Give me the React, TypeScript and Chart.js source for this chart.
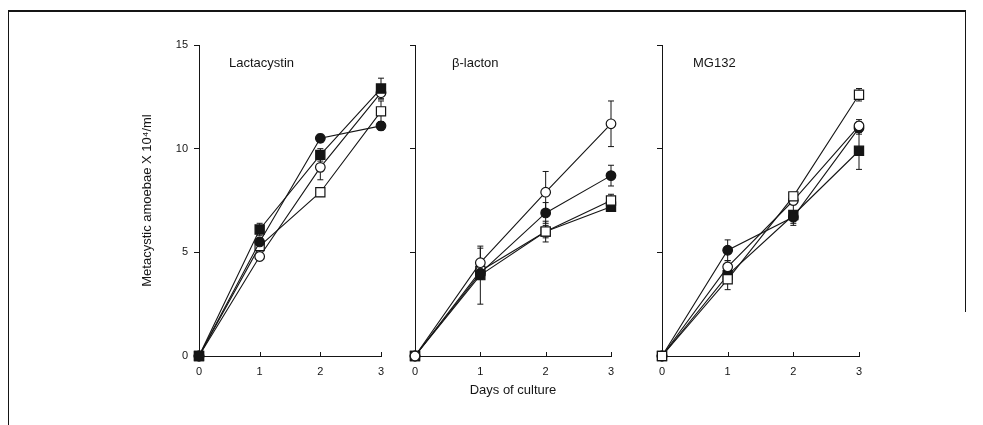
import React, { useEffect, useRef } from "react";
import { Chart, registerables } from "chart.js";

Chart.register(...registerables);

// ---------- data ----------
const days = ["0", "1", "2", "3"];
const yTickValues = [0, 5, 10, 15];
const panelTitles = ["Lactacystin", "β-lacton", "MG132"];
const yAxisTitle = "Metacystic amoebae X 10⁴/ml";
const xAxisTitle = "Days of culture";

// Lactacystin
const lacFilledCircle = [0, 5.5, 10.5, 11.1];
const lacFilledCircleErr = [0, 0.2, 0.2, 0.2];
const lacFilledSquare = [0, 6.1, 9.7, 12.9];
const lacFilledSquareErr = [0, 0.3, 0.3, 0.5];
const lacOpenCircle = [0, 4.8, 9.1, 12.7];
const lacOpenCircleErr = [0, 0.2, 0.6, 0.3];
const lacOpenSquare = [0, 5.3, 7.9, 11.8];
const lacOpenSquareErr = [0, 0.2, 0.2, 0.5];

// beta-lacton
const betaFilledCircle = [0, 4.0, 6.9, 8.7];
const betaFilledCircleErr = [0, 0.3, 0.5, 0.5];
const betaFilledSquare = [0, 3.9, 6.0, 7.2];
const betaFilledSquareErr = [0, 1.4, 0.3, 0.2];
const betaOpenCircle = [0, 4.5, 7.9, 11.2];
const betaOpenCircleErr = [0, 0.7, 1.0, 1.1];
const betaOpenSquare = [0, 4.1, 6.0, 7.5];
const betaOpenSquareErr = [0, 0.3, 0.5, 0.3];

// MG132
const mgFilledCircle = [0, 5.1, 6.7, 11.0];
const mgFilledCircleErr = [0, 0.5, 0.3, 0.3];
const mgFilledSquare = [0, 3.9, 6.8, 9.9];
const mgFilledSquareErr = [0, 0.2, 0.5, 0.9];
const mgOpenCircle = [0, 4.3, 7.5, 11.1];
const mgOpenCircleErr = [0, 0.3, 0.2, 0.3];
const mgOpenSquare = [0, 3.7, 7.7, 12.6];
const mgOpenSquareErr = [0, 0.5, 0.2, 0.3];

// ---------- styling / layout ----------
const FONT = "'Liberation Sans', Arial, Helvetica, sans-serif";
const INK = "#151515";

type Series = { values: number[]; errors: number[]; shape: "circle" | "rect"; filled: boolean };

const panelSeries: Series[][] = [
  [
    { values: lacFilledCircle, errors: lacFilledCircleErr, shape: "circle", filled: true },
    { values: lacFilledSquare, errors: lacFilledSquareErr, shape: "rect", filled: true },
    { values: lacOpenCircle, errors: lacOpenCircleErr, shape: "circle", filled: false },
    { values: lacOpenSquare, errors: lacOpenSquareErr, shape: "rect", filled: false },
  ],
  [
    { values: betaOpenCircle, errors: betaOpenCircleErr, shape: "circle", filled: false },
    { values: betaFilledCircle, errors: betaFilledCircleErr, shape: "circle", filled: true },
    { values: betaOpenSquare, errors: betaOpenSquareErr, shape: "rect", filled: false },
    { values: betaFilledSquare, errors: betaFilledSquareErr, shape: "rect", filled: true },
  ],
  [
    { values: mgOpenSquare, errors: mgOpenSquareErr, shape: "rect", filled: false },
    { values: mgOpenCircle, errors: mgOpenCircleErr, shape: "circle", filled: false },
    { values: mgFilledCircle, errors: mgFilledCircleErr, shape: "circle", filled: true },
    { values: mgFilledSquare, errors: mgFilledSquareErr, shape: "rect", filled: true },
  ],
];

const panelLayout = [
  { left: 130, top: 30, width: 270, height: 380, yAxisWidth: 69, padRight: 19, padTop: 15, titleDx: 30, titleDy: 18, yLabels: true, xTitle: false },
  { left: 400, top: 30, width: 230, height: 380, yAxisWidth: 15, padRight: 19, padTop: 15, titleDx: 37, titleDy: 18, yLabels: false, xTitle: true },
  { left: 645, top: 30, width: 235, height: 380, yAxisWidth: 17, padRight: 21, padTop: 15, titleDx: 31, titleDy: 18, yLabels: false, xTitle: false },
];

const errorBarPlugin = {
  id: "errorBars",
  beforeDatasetsDraw(chart: any) {
    const ctx = chart.ctx;
    const ys = chart.scales.y;
    ctx.save();
    ctx.strokeStyle = INK;
    ctx.lineWidth = 1;
    chart.data.datasets.forEach((ds: any, i: number) => {
      const meta = chart.getDatasetMeta(i);
      const errs: number[] = ds.errors || [];
      meta.data.forEach((pt: any, j: number) => {
        const e = errs[j];
        if (!e) return;
        const v = ds.data[j];
        const yt = ys.getPixelForValue(v + e);
        const yb = ys.getPixelForValue(v - e);
        const x = pt.x;
        ctx.beginPath();
        ctx.moveTo(x, yt);
        ctx.lineTo(x, yb);
        ctx.moveTo(x - 3, yt);
        ctx.lineTo(x + 3, yt);
        ctx.moveTo(x - 3, yb);
        ctx.lineTo(x + 3, yb);
        ctx.stroke();
      });
    });
    ctx.restore();
  },
};

const decorPlugin = {
  id: "decor",
  afterDraw(chart: any, _args: any, opts: any) {
    const ctx = chart.ctx;
    const xs = chart.scales.x;
    const area = chart.chartArea;
    ctx.save();
    // inward x ticks
    ctx.strokeStyle = INK;
    ctx.lineWidth = 1;
    for (let i = 1; i < days.length; i++) {
      const x = Math.round(xs.getPixelForValue(i)) + 0.5;
      ctx.beginPath();
      ctx.moveTo(x, area.bottom);
      ctx.lineTo(x, area.bottom - 4);
      ctx.stroke();
    }
    // panel title
    ctx.fillStyle = INK;
    ctx.font = `13px ${FONT}`;
    ctx.textAlign = "left";
    ctx.textBaseline = "middle";
    ctx.fillText(opts.text, area.left + opts.dx, area.top + opts.dy);
    ctx.restore();
  },
};

function Panel({ index }: { index: number }) {
  const ref = useRef<HTMLCanvasElement | null>(null);
  const L = panelLayout[index];
  useEffect(() => {
    if (!ref.current) return;
    const datasets = panelSeries[index].map((s) => ({
      data: s.values,
      errors: s.errors,
      borderColor: INK,
      borderWidth: 1.1,
      pointStyle: s.shape,
      pointRadius: s.shape === "rect" ? 6.5 : 4.8,
      pointHoverRadius: s.shape === "rect" ? 6.5 : 4.8,
      pointBackgroundColor: s.filled ? INK : "#ffffff",
      pointBorderColor: INK,
      pointBorderWidth: 1.2,
      tension: 0,
      fill: false,
      clip: false,
    }));
    const chart = new Chart(ref.current, {
      type: "line",
      data: { labels: days, datasets: datasets as any },
      plugins: [errorBarPlugin, decorPlugin],
      options: {
        animation: false,
        responsive: false,
        maintainAspectRatio: false,
        devicePixelRatio: 1,
        layout: { padding: { top: L.padTop, right: L.padRight, bottom: 0, left: 0 } },
        plugins: {
          legend: { display: false },
          tooltip: { enabled: false },
          title: { display: false },
          decor: { text: panelTitles[index], dx: L.titleDx, dy: L.titleDy },
        } as any,
        scales: {
          x: {
            type: "category",
            offset: false,
            grid: { display: false, drawTicks: false, tickLength: 0 },
            border: { display: true, color: INK, width: 1 },
            ticks: {
              color: INK,
              font: { family: FONT, size: 11 },
              padding: 9,
              maxRotation: 0,
              autoSkip: false,
            },
            title: {
              display: L.xTitle,
              text: xAxisTitle,
              color: INK,
              font: { family: FONT, size: 13 },
              padding: { top: 0, bottom: 12 },
            },
            afterFit: (scale: any) => {
              scale.height = 54;
            },
          },
          y: {
            type: "linear",
            min: 0,
            max: 15,
            afterBuildTicks: (scale: any) => {
              scale.ticks = yTickValues.map((v) => ({ value: v }));
            },
            grid: {
              display: true,
              drawOnChartArea: false,
              drawTicks: true,
              tickLength: 5,
              color: INK,
              lineWidth: 1,
            },
            border: { display: true, color: INK, width: 1 },
            ticks: {
              display: L.yLabels,
              color: INK,
              font: { family: FONT, size: 11 },
              padding: 6,
            },
            title: {
              display: L.yLabels,
              text: yAxisTitle,
              color: INK,
              font: { family: FONT, size: 13 },
              padding: { top: 10, bottom: 0 },
            },
            afterFit: (scale: any) => {
              scale.width = L.yAxisWidth;
            },
          },
        },
      },
    });
    return () => chart.destroy();
  }, [index]);
  return (
    <canvas
      ref={ref}
      width={L.width}
      height={L.height}
      style={{ position: "absolute", left: L.left, top: L.top, width: L.width, height: L.height }}
    />
  );
}

export default function App() {
  return (
    <div style={{ position: "absolute", left: 0, top: 0, width: 983, height: 425, background: "#fff", overflow: "hidden" }}>
      <div style={{ position: "absolute", left: 8, top: 10, width: 958, height: 0, borderTop: `2px solid ${INK}` }} />
      <div style={{ position: "absolute", left: 8, top: 10, width: 0, height: 415, borderLeft: `1px solid ${INK}` }} />
      <div style={{ position: "absolute", left: 965, top: 10, width: 0, height: 302, borderLeft: `1px solid ${INK}` }} />
      <Panel index={0} />
      <Panel index={1} />
      <Panel index={2} />
    </div>
  );
}
